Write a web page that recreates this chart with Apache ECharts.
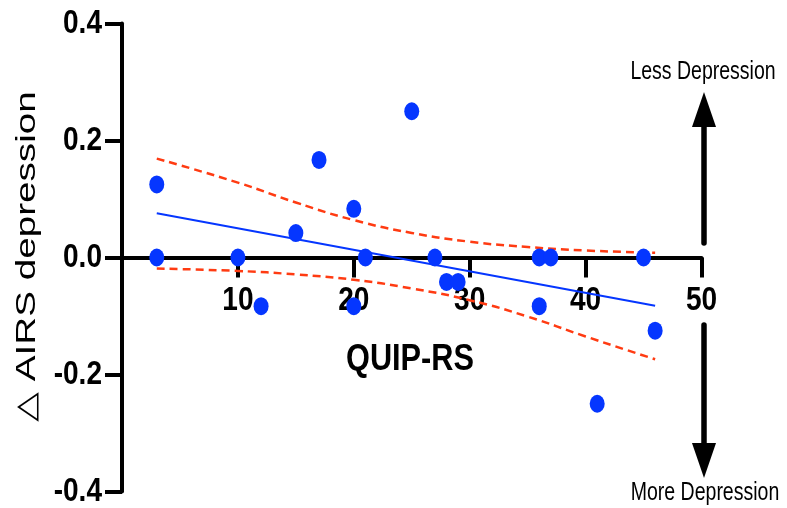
<!DOCTYPE html>
<html>
<head>
<meta charset="utf-8">
<script src="https://cdn.jsdelivr.net/npm/echarts@6/dist/echarts.min.js"></script>
<style>
  html, body { margin: 0; padding: 0; background: #fff; }
  #chart { width: 787px; height: 508px; }
</style>
</head>
<body>
<div id="chart"></div>
<script>
// Participants: QUIP-RS score vs change in AIRS depression
const quipRS = [3, 3, 10, 12, 15, 17, 20, 20, 21, 25, 27, 28, 29, 36, 36, 37, 41, 45, 46];
const deltaAIRS = [0.125, 0, 0, -0.0833, 0.0417, 0.1667, 0.0833, -0.0833, 0, 0.25, 0, -0.0417, -0.0417, 0, -0.0833, 0, -0.25, 0, -0.125];

// Linear fit (endpoints) and its 95% confidence band
const fitX = [3, 46];
const fitY = [0.0755, -0.0825];
const bandX = [3, 10, 15, 20, 25, 30, 35, 40, 46];
const bandUpper = [0.169, 0.128, 0.094, 0.064, 0.042, 0.027, 0.018, 0.012, 0.008];
const bandLower = [-0.019, -0.023, -0.029, -0.038, -0.053, -0.073, -0.101, -0.135, -0.174];

// Axis ranges and tick labels
const xRange = [0, 50, 10];      // min, max, interval
const yRange = [-0.4, 0.4, 0.2]; // min, max, interval
const xTickLabels = [10, 20, 30, 40, 50];
const yTickLabels = [0.4, 0.2, 0, -0.2, -0.4];

const zip = (xs, ys) => xs.map((x, i) => [x, ys[i]]);

const SANS = "'Liberation Sans', Arial, Helvetica, sans-serif";
const BLUE = '#0536ff';
const RED = '#ff3b12';

const chart = echarts.init(document.getElementById('chart'), null, { renderer: 'canvas' });

const bandStyle = { color: RED, width: 2.5, type: [8, 5] };

chart.setOption({
  animation: false,
  backgroundColor: '#ffffff',
  grid: { left: 122, right: 85.5, top: 23.5, bottom: 16.5, containLabel: false, outerBoundsMode: 'none' },
  xAxis: {
    type: 'value',
    min: xRange[0], max: xRange[1], interval: xRange[2],
    axisLine: { show: true, onZero: true, lineStyle: { color: '#000', width: 4 } },
    axisTick: { show: true, length: 20, lineStyle: { color: '#000', width: 4 } },
    axisLabel: { show: false },
    splitLine: { show: false }
  },
  yAxis: {
    type: 'value',
    min: yRange[0], max: yRange[1], interval: yRange[2],
    axisLine: { show: true, onZero: false, lineStyle: { color: '#000', width: 4 } },
    axisTick: { show: true, length: 17, lineStyle: { color: '#000', width: 4 } },
    axisLabel: { show: false },
    splitLine: { show: false }
  },
  series: [
    {
      name: 'upper', type: 'line', data: zip(bandX, bandUpper),
      smooth: true, symbol: 'none', silent: true, z: 2,
      lineStyle: bandStyle
    },
    {
      name: 'lower', type: 'line', data: zip(bandX, bandLower),
      smooth: true, symbol: 'none', silent: true, z: 2,
      lineStyle: bandStyle
    },
    {
      name: 'fit', type: 'line', data: zip(fitX, fitY),
      symbol: 'none', silent: true, z: 3,
      lineStyle: { color: BLUE, width: 2 }
    },
    {
      name: 'participants', type: 'scatter', data: zip(quipRS, deltaAIRS),
      symbol: 'circle', symbolSize: [15, 18], z: 5,
      itemStyle: { color: BLUE, opacity: 1 }
    }
  ]
});

// Condensed bold tick labels, placed through the axes' own scales
const toPx = (x, y) => chart.convertToPixel({ xAxisIndex: 0, yAxisIndex: 0 }, [x, y]);
const tickFont = 'bold 33px ' + SANS;
const graphics = [];

xTickLabels.forEach(v => {
  const p = toPx(v, 0);
  graphics.push({
    type: 'text', x: p[0], y: p[1] + 43.5, scaleX: 0.85,
    style: { text: String(v), fill: '#000', font: tickFont, textAlign: 'center', textVerticalAlign: 'middle' }
  });
});
yTickLabels.forEach(v => {
  const p = toPx(0, v);
  graphics.push({
    type: 'text', x: p[0] - 20, y: p[1], scaleX: 0.85,
    style: {
      text: Math.abs(v) < 1e-9 ? '0.0' : v.toFixed(1),
      fill: '#000', font: tickFont, textAlign: 'right', textVerticalAlign: 'middle'
    }
  });
});

graphics.push(
  {
    type: 'text', x: 27, y: 256.5, rotation: Math.PI / 2, scaleX: 1.38,
    style: {
      text: '△ AIRS depression', fill: '#000',
      font: "normal 28px 'Liberation Sans', Arial, 'DejaVu Sans', sans-serif",
      textAlign: 'center', textVerticalAlign: 'middle'
    }
  },
  {
    type: 'text', x: 410, y: 360, scaleX: 0.83,
    style: { text: 'QUIP-RS', fill: '#000', font: 'bold 37px ' + SANS, textAlign: 'center', textVerticalAlign: 'middle' }
  },
  {
    type: 'text', x: 703, y: 72, scaleX: 0.78,
    style: { text: 'Less Depression', fill: '#000', font: 'normal 25px ' + SANS, textAlign: 'center', textVerticalAlign: 'middle' }
  },
  {
    type: 'text', x: 705, y: 493, scaleX: 0.78,
    style: { text: 'More Depression', fill: '#000', font: 'normal 25px ' + SANS, textAlign: 'center', textVerticalAlign: 'middle' }
  },
  // arrow pointing up: less depression
  {
    type: 'line', shape: { x1: 704, y1: 243, x2: 704, y2: 120 },
    style: { stroke: '#000', lineWidth: 5.5, lineCap: 'round' }
  },
  {
    type: 'polygon', shape: { points: [[692, 127], [716, 127], [704, 92]] },
    style: { fill: '#000' }
  },
  // arrow pointing down: more depression
  {
    type: 'line', shape: { x1: 704, y1: 325, x2: 704, y2: 450 },
    style: { stroke: '#000', lineWidth: 5.5, lineCap: 'round' }
  },
  {
    type: 'polygon', shape: { points: [[692, 443], [716, 443], [704, 478]] },
    style: { fill: '#000' }
  }
);

chart.setOption({ graphic: graphics });
</script>
</body>
</html>
